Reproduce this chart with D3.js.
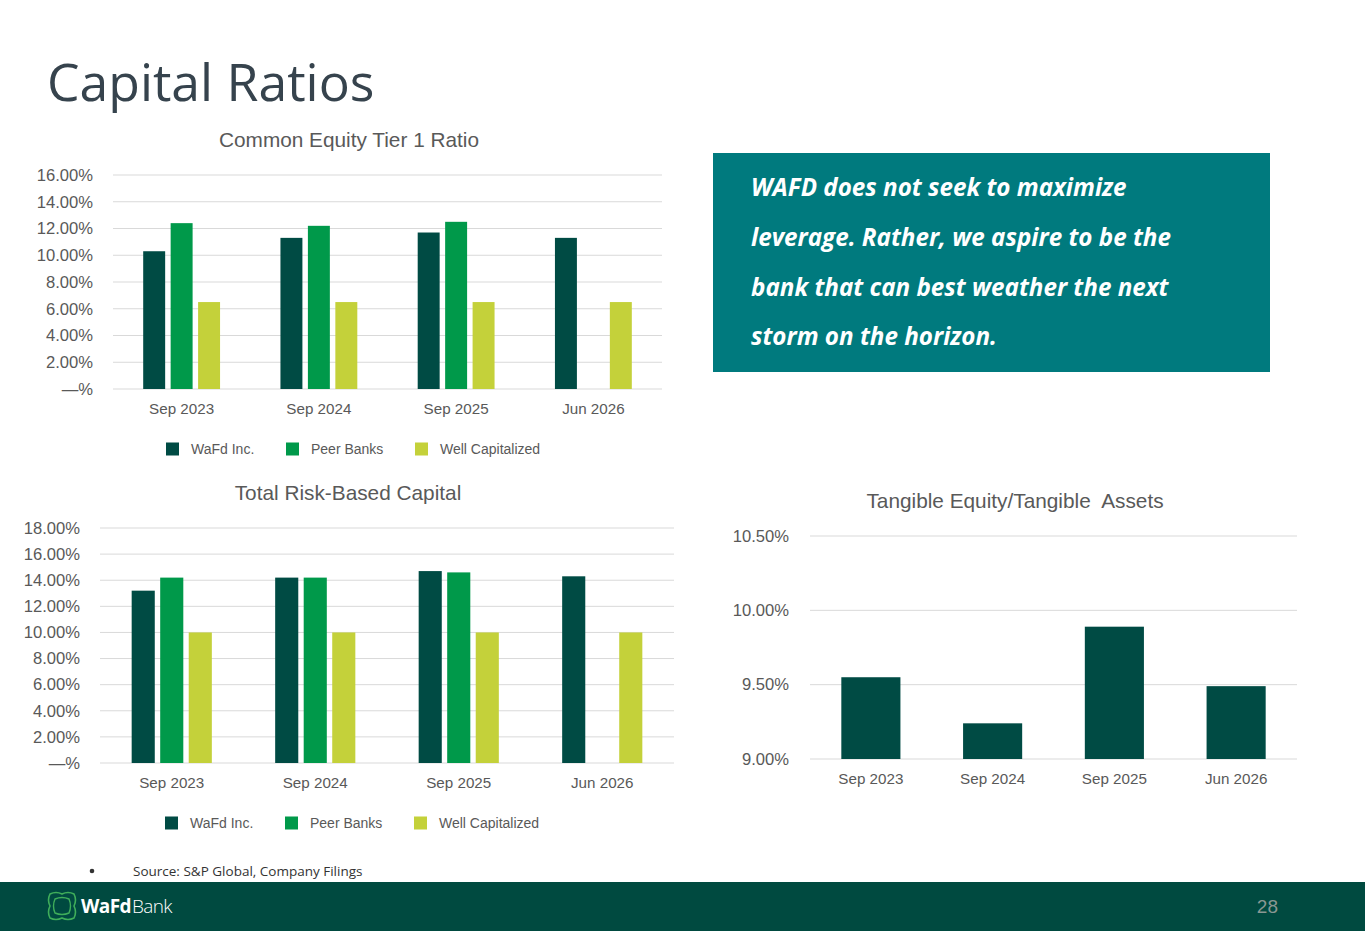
<!DOCTYPE html>
<html>
<head>
<meta charset="utf-8">
<script src="https://cdn.jsdelivr.net/npm/d3@7"></script>
<style>
  body { margin: 0; background: #fff; }
  svg { display: block; }
  .tick text { fill: #595959; font-family: "Liberation Sans", Arial, sans-serif; font-size: 15.2px; }
  .yaxis .tick text { font-size: 16.6px; }
</style>
</head>
<body>
<div id="chart"></div>
<script>
// data
const periods = ['Sep 2023', 'Sep 2024', 'Sep 2025', 'Jun 2026']
const seriesNames = ['WaFd Inc.', 'Peer Banks', 'Well Capitalized']
const cet1Wafd = [10.3, 11.3, 11.7, 11.3]
const cet1Peer = [12.4, 12.2, 12.5, null]
const cet1Well = [6.5, 6.5, 6.5, 6.5]
const trbcWafd = [13.2, 14.2, 14.7, 14.3]
const trbcPeer = [14.2, 14.2, 14.6, null]
const trbcWell = [10.0, 10.0, 10.0, 10.0]
const tceWafd = [9.55, 9.24, 9.89, 9.49]
const cet1Ticks = [0, 2, 4, 6, 8, 10, 12, 14, 16]
const trbcTicks = [0, 2, 4, 6, 8, 10, 12, 14, 16, 18]
const tceTicks = [9.0, 9.5, 10.0, 10.5]
const colors = ['#004b44', '#00994a', '#c4d13a']

const W = 1365, H = 931
const svg = d3.select('#chart').append('svg')
    .attr('width', W)
    .attr('height', H)

const font = '"Liberation Sans", Arial, sans-serif'

function pctFmt(d) {
    return d === 0 ? '\u2014%' : d.toFixed(2) + '%'
}

function drawChart(opt) {
    const g = svg.append('g')

    const xScale = d3.scaleBand().domain(periods).range([opt.x0, opt.x1])
    const yScale = d3.scaleLinear().domain(opt.domain).range([opt.y0, opt.y1])

    // gridlines
    g.selectAll('line.grid')
        .data(opt.ticks)
        .enter().append('line')
        .attr('class', 'grid')
        .attr('x1', opt.x0).attr('x2', opt.x1)
        .attr('y1', d => yScale(d)).attr('y2', d => yScale(d))
        .attr('stroke', '#d9d9d9')
        .attr('stroke-width', 1)

    //y axis
    const yaxis = d3.axisLeft(yScale).tickValues(opt.ticks).tickFormat(opt.fmt).tickSize(0).tickPadding(opt.ypad)
    g.append('g')
        .attr('class', 'yaxis')
        .attr('transform', 'translate(' + opt.x0 + ',0)')
        .call(yaxis)
        .call(a => a.select('.domain').remove())

    //x axis
    const xaxis = d3.axisBottom(xScale).tickSize(0).tickPadding(14)
    g.append('g')
        .attr('transform', 'translate(0,' + opt.y0 + ')')
        .call(xaxis)
        .call(a => a.select('.domain').remove())

    // bars
    const inner = d3.scaleBand().domain(d3.range(opt.series.length))
        .range([0, xScale.bandwidth()])
        .paddingInner(opt.padInner)
        .paddingOuter(opt.padOuter)

    opt.series.forEach((vals, s) => {
        g.selectAll(null)
            .data(periods.map((p, i) => ({ p: p, v: vals[i] })).filter(d => d.v != null))
            .enter().append('rect')
            .attr('x', d => xScale(d.p) + inner(s))
            .attr('width', inner.bandwidth())
            .attr('y', d => yScale(d.v))
            .attr('height', d => yScale(opt.domain[0]) - yScale(d.v))
            .attr('fill', colors[s])
    })

    //title
    g.append('text')
        .attr('x', opt.titleX)
        .attr('y', opt.titleY)
        .attr('text-anchor', 'middle')
        .style('font-family', font)
        .style('font-size', '20.8px')
        .style('fill', '#595959')
        .text(opt.title)

    //legend
    if (opt.legendY) {
        opt.legendX.forEach((lx, i) => {
            g.append('rect')
                .attr('x', lx).attr('y', opt.legendY - 6.5)
                .attr('width', 13).attr('height', 13)
                .attr('fill', colors[i])
            g.append('text')
                .attr('x', lx + 25).attr('y', opt.legendY + 5)
                .style('font-family', font)
                .style('font-size', '14px')
                .style('fill', '#595959')
                .text(seriesNames[i])
        })
    }
}

// header
svg.append('text')
    .attr('x', 47).attr('y', 101)
    .style('font-family', '"Open Sans", sans-serif')
    .style('font-size', '51.7px')
    .style('fill', '#36434d')
    .text('Capital Ratios')

drawChart({
    x0: 113, x1: 662, y0: 389, y1: 175,
    domain: [0, 16], ticks: cet1Ticks, fmt: pctFmt, ypad: 20,
    series: [cet1Wafd, cet1Peer, cet1Well],
    padInner: 0.2, padOuter: 1.1,
    title: 'Common Equity Tier 1 Ratio', titleX: 349, titleY: 147,
    legendX: [166, 286, 415], legendY: 449
})

drawChart({
    x0: 100, x1: 674, y0: 763, y1: 528,
    domain: [0, 18], ticks: trbcTicks, fmt: pctFmt, ypad: 20,
    series: [trbcWafd, trbcPeer, trbcWell],
    padInner: 0.19, padOuter: 1.11,
    title: 'Total Risk-Based Capital', titleX: 348, titleY: 500,
    legendX: [165, 285, 414], legendY: 823
})

drawChart({
    x0: 810, x1: 1297, y0: 759, y1: 536,
    domain: [9.0, 10.5], ticks: tceTicks, fmt: d => d.toFixed(2) + '%', ypad: 21,
    series: [tceWafd],
    padInner: 0, padOuter: 0.53,
    title: 'Tangible Equity/Tangible\u00a0 Assets', titleX: 1015, titleY: 508
})

// callout box
svg.append('rect')
    .attr('x', 713).attr('y', 153)
    .attr('width', 557).attr('height', 219)
    .attr('fill', '#007a7e')

const callout = ['WAFD does not seek to maximize',
    'leverage. Rather, we aspire to be the',
    'bank that can best weather the next',
    'storm on the horizon.']
svg.selectAll('text.callout')
    .data(callout)
    .enter().append('text')
    .attr('class', 'callout')
    .attr('x', 751)
    .attr('y', (d, i) => 196 + i * 49.8)
    .style('font-family', '"Open Sans", sans-serif')
    .style('font-weight', 'bold')
    .style('font-style', 'italic')
    .style('font-size', '24.2px')
    .style('fill', '#fff')
    .text(d => d)

// source note
svg.append('circle')
    .attr('cx', 92).attr('cy', 871)
    .attr('r', 2.3)
    .attr('fill', '#333')
svg.append('text')
    .attr('x', 133).attr('y', 876)
    .style('font-family', '"Open Sans", sans-serif')
    .style('font-size', '13.5px')
    .style('fill', '#333')
    .text('Source: S&P Global, Company Filings')

// footer
svg.append('rect')
    .attr('x', 0).attr('y', 882)
    .attr('width', W).attr('height', H - 882)
    .attr('fill', '#004a40')

// logo mark
const logo = svg.append('g').attr('transform', 'translate(62,906)')
logo.append('path')
    .attr('d', 'M-12,-12 Q-6,-15 0,-12 Q6,-15 12,-12 Q15,-6 12,0 Q15,6 12,12 Q6,15 0,12 Q-6,15 -12,12 Q-15,6 -12,0 Q-15,-6 -12,-12 Z')
    .attr('fill', 'none')
    .attr('stroke', '#3fae5a')
    .attr('stroke-width', 1.6)
logo.append('path')
    .attr('d', 'M-7,-7 Q0,-10 7,-7 Q10,0 7,7 Q0,10 -7,7 Q-10,0 -7,-7 Z')
    .attr('fill', 'none')
    .attr('stroke', '#3fae5a')
    .attr('stroke-width', 1.4)

const brand = svg.append('text')
    .attr('x', 81).attr('y', 913)
    .style('font-family', '"Open Sans", sans-serif')
    .style('font-size', '19px')
    .style('fill', '#fff')
    .style('letter-spacing', '-0.6px')
brand.append('tspan').style('font-weight', 'bold').text('WaFd')
brand.append('tspan').style('font-weight', '300').attr('dx', 1).text('Bank')

svg.append('text')
    .attr('x', 1278).attr('y', 913)
    .attr('text-anchor', 'end')
    .style('font-family', font)
    .style('font-size', '19px')
    .style('fill', '#8a9893')
    .text('28')
</script>
</body>
</html>
